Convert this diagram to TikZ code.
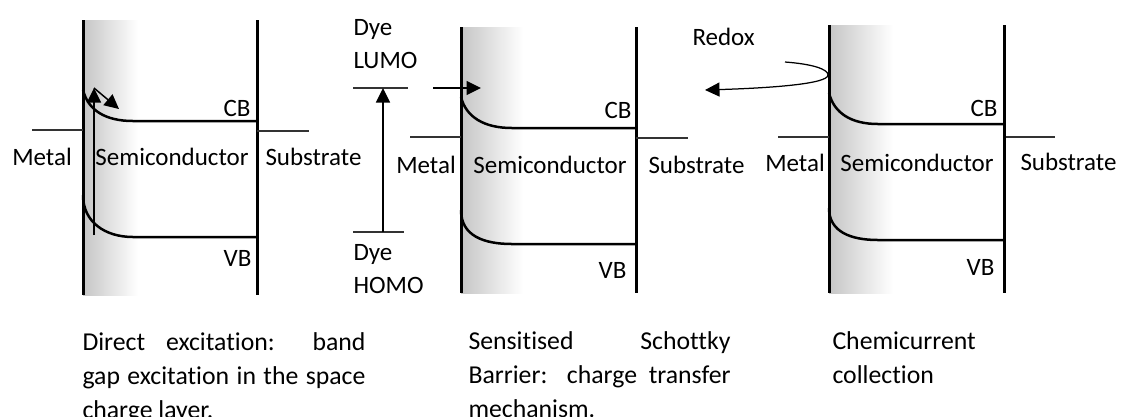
\documentclass[tikz,border=0pt]{standalone}
\usepackage{fontspec}
\setmainfont{Carlito}[Ligatures=NoCommon, Contextuals=NoAlternate]
\usetikzlibrary{arrows.meta, positioning}
\tikzset{
    >={Triangle[length=5.8pt, width=5.6pt]},
    % Lines
    wall/.style={line width=1.2pt},
    band/.style={line width=1pt},
    level/.style={line width=0.6pt, black!80},
    flow/.style={->, line width=0.6pt},
    depletion/.style={left color=gray!45, right color=white, draw=none},
    % Labels
    lbl/.style={font=\fontsize{10}{13}\selectfont, inner sep=0pt},
    capt/.style={font=\fontsize{10.3}{13.6}\selectfont, inner sep=0pt, anchor=north west, align=justify}
}

\begin{document}
\begin{tikzpicture}[x=0.4pt, y=-0.4pt]
\useasboundingbox (0,0) rectangle (1125,416);

% Direct excitation
\shade[depletion] (83,20) rectangle (138,295);
\draw[wall] (83,20) -- (83,295);
\draw[wall] (257,20) -- (257,295);
\draw[band] (83,90) .. controls (88,110) and (105,121) .. (133,121) -- (257,121);
\draw[band] (83,195) .. controls (83,222) and (105,237) .. (133,237) -- (257,237);
\draw[level] (32,130) -- (83,130);
\draw[level] (257,131) -- (309,131);

\node[lbl, anchor=base] (metal1) at (42,165) {Metal};
\node[lbl, anchor=base] (semi1) at (172,165) {Semiconductor};
\node[lbl, anchor=base west] (sub1) at (265,165) {Substrate};
\node[lbl, anchor=base east] (cb1) at (251,116) {CB};
\node[lbl, anchor=base east] (vb1) at (252,266) {VB};

\coordinate (vbEdge1) at (94,235);
\coordinate (cbEdge1) at (94,88);
\coordinate (hot1) at (119,109);
\draw[flow] (vbEdge1) -- (cbEdge1);
\draw[flow] (cbEdge1) -- (hot1);

% Sensitised Schottky barrier
\shade[depletion] (461,27) rectangle (523,293);
\draw[wall] (461,27) -- (461,293);
\draw[wall] (636,27) -- (636,293);
\draw[band] (461,97) .. controls (466,117) and (484,128) .. (512,128) -- (636,128);
\draw[band] (461,210) .. controls (461,236) and (484,244) .. (512,244) -- (636,244);
\draw[level] (410,137) -- (461,137);
\draw[level] (636,138) -- (688,138);
\draw[level] (353,88) -- (408,88);
\draw[level] (353,232) -- (404,232);

\node[lbl, anchor=base] (metal2) at (426,173) {Metal};
\node[lbl, anchor=base] (semi2) at (550,173) {Semiconductor};
\node[lbl, anchor=base west] (sub2) at (648,173) {Substrate};
\node[lbl, anchor=base east] (cb2) at (632,118) {CB};
\node[lbl, anchor=base east] (vb2) at (627,278) {VB};
\node[lbl, align=left, anchor=north west] (lumo) at (353,19) {Dye\\LUMO};
\node[lbl, align=left, anchor=north west] (homo) at (353,244) {Dye\\HOMO};

\coordinate (homoLvl) at (383,232);
\coordinate (lumoLvl) at (383,88);
\coordinate (injStart) at (433,88);
\coordinate (injEnd) at (481,88);
\draw[flow] (homoLvl) -- (lumoLvl);
\draw[flow] (injStart) -- (injEnd);

% Chemicurrent
\shade[depletion] (829,25) rectangle (893,293);
\draw[wall] (829,25) -- (829,293);
\draw[wall] (1004,25) -- (1004,293);
\draw[band] (829,93) .. controls (834,113) and (851,124) .. (878,124) -- (1004,124);
\draw[band] (829,208) .. controls (829,232) and (851,240) .. (878,240) -- (1004,240);
\draw[level] (778,137) -- (829,137);
\draw[level] (1006,137) -- (1055,137);

\node[lbl, anchor=base] (metal3) at (795,171) {Metal};
\node[lbl, anchor=base] (semi3) at (917,171) {Semiconductor};
\node[lbl, anchor=base west] (sub3) at (1020,170) {Substrate};
\node[lbl, anchor=base east] (cb3) at (998,116) {CB};
\node[lbl, anchor=base east] (vb3) at (995,275) {VB};
\node[lbl, anchor=base west] (redox) at (692,45) {Redox};

\coordinate (redoxStart) at (785,62);
\coordinate (surf3) at (828,75);
\coordinate (redoxEnd) at (705,90);
\draw[flow, line width=0.5pt] (redoxStart) .. controls (812,64) and (828,69) .. (surf3)
    .. controls (828,84) and (770,88) .. (redoxEnd);

% Captions
\node[capt, text width=113.2pt] (capt1) at (82,332)
    {Direct excitation: band\linebreak gap excitation in the space\linebreak charge layer.};
\node[capt, text width=104.8pt] (capt2) at (468,331)
    {Sensitised Schottky\linebreak Barrier: charge transfer\linebreak mechanism.};
\node[capt, align=left] (capt3) at (832,331) {Chemicurrent\\collection};

\end{tikzpicture}
\end{document}
